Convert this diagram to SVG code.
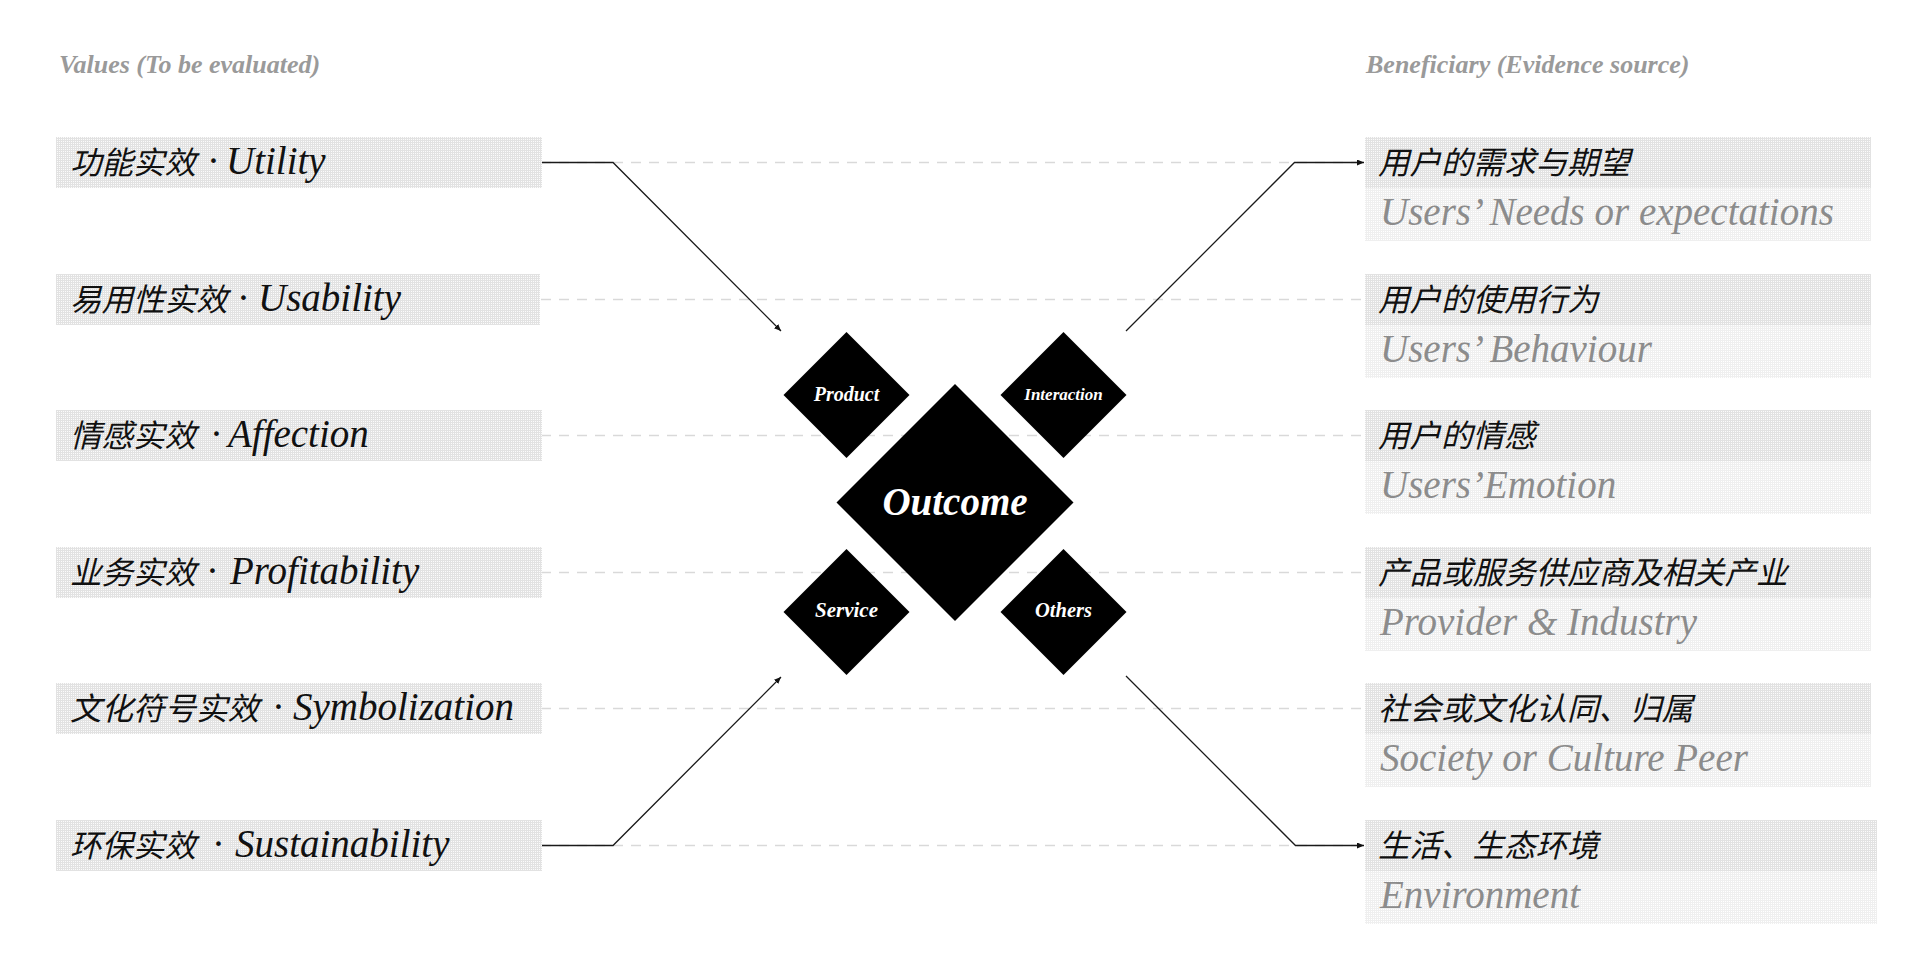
<svg xmlns="http://www.w3.org/2000/svg" width="1920" height="960" viewBox="0 0 1920 960">
  <defs>
    <pattern id="gridDark" patternUnits="userSpaceOnUse" width="2" height="2">
      <rect width="2" height="2" fill="#fbfbfb"/>
      <rect width="2" height="1" fill="#e2e2e2"/>
      <rect width="1" height="2" fill="#e2e2e2"/>
    </pattern>
    <pattern id="gridLight" patternUnits="userSpaceOnUse" width="2" height="2">
      <rect width="2" height="2" fill="#ffffff"/>
      <rect width="2" height="1" fill="#efefef"/>
      <rect width="1" height="2" fill="#efefef"/>
    </pattern>
    <marker id="arrow" markerUnits="userSpaceOnUse" markerWidth="8" markerHeight="8" refX="7" refY="3" orient="auto">
      <path d="M0,0 L7,3 L0,6 z" fill="#111"/>
    </marker>
    <style>
      .hdr { font-family: "Liberation Serif", "Times New Roman", serif; font-size: 26px; font-weight: bold; font-style: italic; fill: #9a9a9a; }
      .zh { font-family: "Liberation Serif", "Noto Sans CJK SC", sans-serif; font-size: 31.5px; font-style: italic; fill: #111; }
      .en { font-family: "Liberation Serif", "Times New Roman", serif; font-size: 39px; font-style: italic; fill: #111; }
      .eng { font-family: "Liberation Serif", "Times New Roman", serif; font-size: 39px; font-style: italic; fill: #8c8c8c; }
      .dash { stroke: #d9d9d9; stroke-width: 1.5; stroke-dasharray: 10 8; fill: none; }
      .conn { stroke: #1a1a1a; stroke-width: 1.3; fill: none; }
      .dia { fill: #000; }
      .dtxt { font-family: "Liberation Serif", "Times New Roman", serif; font-weight: bold; font-style: italic; fill: #fff; text-anchor: middle; }
      .boxD { fill: url(#gridDark); }
      .boxL { fill: url(#gridLight); }
    </style>
  </defs>
  <rect width="1920" height="960" fill="#fff"/>

  <g id="headers">
    <text class="hdr" x="59" y="73">Values (To be evaluated)</text>
    <text class="hdr" x="1366" y="73">Beneficiary (Evidence source)</text>
  </g>

  <g id="guides">
    <line class="dash" x1="541" y1="162.5" x2="1365" y2="162.5"/>
    <line class="dash" x1="541" y1="299.5" x2="1365" y2="299.5"/>
    <line class="dash" x1="541" y1="435.5" x2="1365" y2="435.5"/>
    <line class="dash" x1="541" y1="572.5" x2="1365" y2="572.5"/>
    <line class="dash" x1="541" y1="708.5" x2="1365" y2="708.5"/>
    <line class="dash" x1="541" y1="845.5" x2="1365" y2="845.5"/>
  </g>

  <g id="value-utility">
    <rect class="boxD" x="56" y="137" width="486" height="51"/>
    <text y="174"><tspan class="zh" x="70">功能实效</tspan><tspan class="en" x="208">·</tspan><tspan class="en" x="226">Utility</tspan></text>
  </g>
  <g id="value-usability">
    <rect class="boxD" x="56" y="274" width="484" height="51"/>
    <text y="311"><tspan class="zh" x="70">易用性实效</tspan><tspan class="en" x="238">·</tspan><tspan class="en" x="258">Usability</tspan></text>
  </g>
  <g id="value-affection">
    <rect class="boxD" x="56" y="410" width="486" height="51"/>
    <text y="447"><tspan class="zh" x="70">情感实效</tspan><tspan class="en" x="211">·</tspan><tspan class="en" x="228">Affection</tspan></text>
  </g>
  <g id="value-profitability">
    <rect class="boxD" x="56" y="547" width="486" height="51"/>
    <text y="584"><tspan class="zh" x="70">业务实效</tspan><tspan class="en" x="207">·</tspan><tspan class="en" x="230">Profitability</tspan></text>
  </g>
  <g id="value-symbolization">
    <rect class="boxD" x="56" y="683" width="486" height="51"/>
    <text y="720"><tspan class="zh" x="70">文化符号实效</tspan><tspan class="en" x="273">·</tspan><tspan class="en" x="293">Symbolization</tspan></text>
  </g>
  <g id="value-sustainability">
    <rect class="boxD" x="56" y="820" width="486" height="51"/>
    <text y="857"><tspan class="zh" x="70">环保实效</tspan><tspan class="en" x="213">·</tspan><tspan class="en" x="235">Sustainability</tspan></text>
  </g>

  <g id="beneficiary-needs">
    <rect class="boxD" x="1365" y="137" width="506" height="51"/>
    <rect class="boxL" x="1365" y="188" width="506" height="53"/>
    <text class="zh" x="1378" y="174">用户的需求与期望</text>
    <text class="eng" x="1380" y="225">Users’ Needs or expectations</text>
  </g>
  <g id="beneficiary-behaviour">
    <rect class="boxD" x="1365" y="274" width="506" height="51"/>
    <rect class="boxL" x="1365" y="325" width="506" height="53"/>
    <text class="zh" x="1378" y="311">用户的使用行为</text>
    <text class="eng" x="1380" y="362">Users’ Behaviour</text>
  </g>
  <g id="beneficiary-emotion">
    <rect class="boxD" x="1365" y="410" width="506" height="51"/>
    <rect class="boxL" x="1365" y="461" width="506" height="53"/>
    <text class="zh" x="1378" y="447">用户的情感</text>
    <text class="eng" x="1380" y="498">Users’Emotion</text>
  </g>
  <g id="beneficiary-provider">
    <rect class="boxD" x="1365" y="547" width="506" height="51"/>
    <rect class="boxL" x="1365" y="598" width="506" height="53"/>
    <text class="zh" x="1378" y="584">产品或服务供应商及相关产业</text>
    <text class="eng" x="1380" y="635">Provider &amp; Industry</text>
  </g>
  <g id="beneficiary-society">
    <rect class="boxD" x="1365" y="683" width="506" height="51"/>
    <rect class="boxL" x="1365" y="734" width="506" height="53"/>
    <text class="zh" x="1378" y="720">社会或文化认同、归属</text>
    <text class="eng" x="1380" y="771">Society or Culture Peer</text>
  </g>
  <g id="beneficiary-environment">
    <rect class="boxD" x="1365" y="820" width="512" height="51"/>
    <rect class="boxL" x="1365" y="871" width="512" height="53"/>
    <text class="zh" x="1378" y="857">生活、生态环境</text>
    <text class="eng" x="1380" y="908">Environment</text>
  </g>

  <g id="connectors">
    <path class="conn" d="M542,162.5 H613 L781,331" marker-end="url(#arrow)"/>
    <path class="conn" d="M542,845.5 H613 L781,677" marker-end="url(#arrow)"/>
    <path class="conn" d="M1126,331 L1294.5,162.5 H1364" marker-end="url(#arrow)"/>
    <path class="conn" d="M1126,676 L1295.5,845.5 H1364" marker-end="url(#arrow)"/>
  </g>

  <g id="node-outcome">
    <polygon class="dia" points="955,384 1073.5,502.5 955,621 836.5,502.5"/>
    <text class="dtxt" x="955" y="515" font-size="39">Outcome</text>
  </g>
  <g id="node-product">
    <polygon class="dia" points="846.5,332 909.5,395 846.5,458 783.5,395"/>
    <text class="dtxt" x="846.5" y="401" font-size="20">Product</text>
  </g>
  <g id="node-interaction">
    <polygon class="dia" points="1063.5,332 1126.5,395 1063.5,458 1000.5,395"/>
    <text class="dtxt" x="1063.5" y="400" font-size="17">Interaction</text>
  </g>
  <g id="node-service">
    <polygon class="dia" points="846.5,549 909.5,612 846.5,675 783.5,612"/>
    <text class="dtxt" x="846.5" y="617" font-size="21">Service</text>
  </g>
  <g id="node-others">
    <polygon class="dia" points="1063.5,549 1126.5,612 1063.5,675 1000.5,612"/>
    <text class="dtxt" x="1063.5" y="617" font-size="20.5">Others</text>
  </g>
</svg>
